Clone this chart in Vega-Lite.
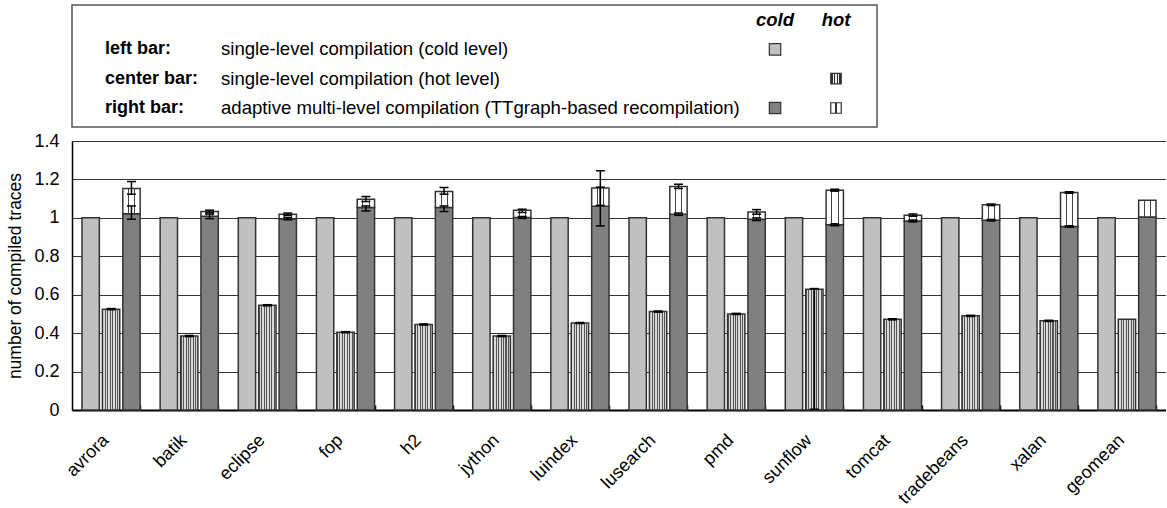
{
  "$schema": "https://vega.github.io/schema/vega-lite/v6.json",
  "padding": {"left": 6, "top": 4, "right": 0, "bottom": 0},
  "background": "white",
  "bounds": "flush",
  "spacing": 14,
  "config": {"font": "Liberation Sans", "view": {"stroke": null}},
  "datasets": {
    "bars": [
      {"b": "avrora", "pos": "left", "lo": 0, "hi": 1}, {"b": "avrora", "pos": "center", "lo": 0, "hi": 0.525}, {"b": "avrora", "pos": "right", "part": "c", "lo": 0, "hi": 1.022}, {"b": "avrora", "pos": "right", "part": "h", "lo": 1.022, "hi": 1.153},
      {"b": "batik", "pos": "left", "lo": 0, "hi": 1}, {"b": "batik", "pos": "center", "lo": 0, "hi": 0.385}, {"b": "batik", "pos": "right", "part": "c", "lo": 0, "hi": 1.008}, {"b": "batik", "pos": "right", "part": "h", "lo": 1.008, "hi": 1.033},
      {"b": "eclipse", "pos": "left", "lo": 0, "hi": 1}, {"b": "eclipse", "pos": "center", "lo": 0, "hi": 0.545}, {"b": "eclipse", "pos": "right", "part": "c", "lo": 0, "hi": 0.996}, {"b": "eclipse", "pos": "right", "part": "h", "lo": 0.996, "hi": 1.019},
      {"b": "fop", "pos": "left", "lo": 0, "hi": 1}, {"b": "fop", "pos": "center", "lo": 0, "hi": 0.405}, {"b": "fop", "pos": "right", "part": "c", "lo": 0, "hi": 1.054}, {"b": "fop", "pos": "right", "part": "h", "lo": 1.054, "hi": 1.097},
      {"b": "h2", "pos": "left", "lo": 0, "hi": 1}, {"b": "h2", "pos": "center", "lo": 0, "hi": 0.445}, {"b": "h2", "pos": "right", "part": "c", "lo": 0, "hi": 1.054}, {"b": "h2", "pos": "right", "part": "h", "lo": 1.054, "hi": 1.137},
      {"b": "jython", "pos": "left", "lo": 0, "hi": 1}, {"b": "jython", "pos": "center", "lo": 0, "hi": 0.385}, {"b": "jython", "pos": "right", "part": "c", "lo": 0, "hi": 1.002}, {"b": "jython", "pos": "right", "part": "h", "lo": 1.002, "hi": 1.04},
      {"b": "luindex", "pos": "left", "lo": 0, "hi": 1}, {"b": "luindex", "pos": "center", "lo": 0, "hi": 0.453}, {"b": "luindex", "pos": "right", "part": "c", "lo": 0, "hi": 1.061}, {"b": "luindex", "pos": "right", "part": "h", "lo": 1.061, "hi": 1.155},
      {"b": "lusearch", "pos": "left", "lo": 0, "hi": 1}, {"b": "lusearch", "pos": "center", "lo": 0, "hi": 0.512}, {"b": "lusearch", "pos": "right", "part": "c", "lo": 0, "hi": 1.019}, {"b": "lusearch", "pos": "right", "part": "h", "lo": 1.019, "hi": 1.163},
      {"b": "pmd", "pos": "left", "lo": 0, "hi": 1}, {"b": "pmd", "pos": "center", "lo": 0, "hi": 0.5}, {"b": "pmd", "pos": "right", "part": "c", "lo": 0, "hi": 0.993}, {"b": "pmd", "pos": "right", "part": "h", "lo": 0.993, "hi": 1.031},
      {"b": "sunflow", "pos": "left", "lo": 0, "hi": 1}, {"b": "sunflow", "pos": "center", "lo": 0, "hi": 0.629}, {"b": "sunflow", "pos": "right", "part": "c", "lo": 0, "hi": 0.964}, {"b": "sunflow", "pos": "right", "part": "h", "lo": 0.964, "hi": 1.144},
      {"b": "tomcat", "pos": "left", "lo": 0, "hi": 1}, {"b": "tomcat", "pos": "center", "lo": 0, "hi": 0.472}, {"b": "tomcat", "pos": "right", "part": "c", "lo": 0, "hi": 0.984}, {"b": "tomcat", "pos": "right", "part": "h", "lo": 0.984, "hi": 1.014},
      {"b": "tradebeans", "pos": "left", "lo": 0, "hi": 1}, {"b": "tradebeans", "pos": "center", "lo": 0, "hi": 0.49}, {"b": "tradebeans", "pos": "right", "part": "c", "lo": 0, "hi": 0.988}, {"b": "tradebeans", "pos": "right", "part": "h", "lo": 0.988, "hi": 1.068},
      {"b": "xalan", "pos": "left", "lo": 0, "hi": 1}, {"b": "xalan", "pos": "center", "lo": 0, "hi": 0.464}, {"b": "xalan", "pos": "right", "part": "c", "lo": 0, "hi": 0.955}, {"b": "xalan", "pos": "right", "part": "h", "lo": 0.955, "hi": 1.132},
      {"b": "geomean", "pos": "left", "lo": 0, "hi": 1}, {"b": "geomean", "pos": "center", "lo": 0, "hi": 0.472}, {"b": "geomean", "pos": "right", "part": "c", "lo": 0, "hi": 1.005}, {"b": "geomean", "pos": "right", "part": "h", "lo": 1.005, "hi": 1.092}
    ],
    "errs": [
      {"b": "avrora", "pos": "center", "lo": 0.522, "hi": 0.528}, {"b": "avrora", "pos": "right", "lo": 0.993, "hi": 1.062}, {"b": "avrora", "pos": "right", "lo": 1.123, "hi": 1.189},
      {"b": "batik", "pos": "center", "lo": 0.382, "hi": 0.388}, {"b": "batik", "pos": "right", "lo": 0.996, "hi": 1.02}, {"b": "batik", "pos": "right", "lo": 1.027, "hi": 1.04},
      {"b": "eclipse", "pos": "center", "lo": 0.542, "hi": 0.548}, {"b": "eclipse", "pos": "right", "lo": 0.99, "hi": 1.002}, {"b": "eclipse", "pos": "right", "lo": 1.013, "hi": 1.025},
      {"b": "fop", "pos": "center", "lo": 0.402, "hi": 0.408}, {"b": "fop", "pos": "right", "lo": 1.036, "hi": 1.062}, {"b": "fop", "pos": "right", "lo": 1.085, "hi": 1.111},
      {"b": "h2", "pos": "center", "lo": 0.442, "hi": 0.448}, {"b": "h2", "pos": "right", "lo": 1.033, "hi": 1.062}, {"b": "h2", "pos": "right", "lo": 1.123, "hi": 1.158},
      {"b": "jython", "pos": "center", "lo": 0.382, "hi": 0.388}, {"b": "jython", "pos": "right", "lo": 0.997, "hi": 1.007}, {"b": "jython", "pos": "right", "lo": 1.028, "hi": 1.045},
      {"b": "luindex", "pos": "center", "lo": 0.45, "hi": 0.456}, {"b": "luindex", "pos": "right", "lo": 0.958, "hi": 1.16}, {"b": "luindex", "pos": "right", "lo": 1.065, "hi": 1.245},
      {"b": "lusearch", "pos": "center", "lo": 0.509, "hi": 0.515}, {"b": "lusearch", "pos": "right", "lo": 1.013, "hi": 1.025}, {"b": "lusearch", "pos": "right", "lo": 1.153, "hi": 1.175},
      {"b": "pmd", "pos": "center", "lo": 0.497, "hi": 0.503}, {"b": "pmd", "pos": "right", "lo": 0.986, "hi": 1.0}, {"b": "pmd", "pos": "right", "lo": 1.019, "hi": 1.043},
      {"b": "sunflow", "pos": "center", "lo": 0.004, "hi": 0.632}, {"b": "sunflow", "pos": "right", "lo": 0.959, "hi": 0.969}, {"b": "sunflow", "pos": "right", "lo": 1.139, "hi": 1.149},
      {"b": "tomcat", "pos": "center", "lo": 0.469, "hi": 0.475}, {"b": "tomcat", "pos": "right", "lo": 0.979, "hi": 0.989}, {"b": "tomcat", "pos": "right", "lo": 1.008, "hi": 1.02},
      {"b": "tradebeans", "pos": "center", "lo": 0.487, "hi": 0.493}, {"b": "tradebeans", "pos": "right", "lo": 0.984, "hi": 0.992}, {"b": "tradebeans", "pos": "right", "lo": 1.064, "hi": 1.072},
      {"b": "xalan", "pos": "center", "lo": 0.461, "hi": 0.467}, {"b": "xalan", "pos": "right", "lo": 0.951, "hi": 0.959}, {"b": "xalan", "pos": "right", "lo": 1.128, "hi": 1.136}
    ],
    "legRows": [
      {"row": "left", "label": "left bar:", "desc": "single-level compilation (cold level)"},
      {"row": "center", "label": "center bar:", "desc": "single-level compilation (hot level)"},
      {"row": "right", "label": "right bar:", "desc": "adaptive multi-level compilation (TTgraph-based recompilation)"}
    ],
    "legHead": [{"col": "cold"}, {"col": "hot"}],
    "legSw": [
      {"row": "left", "col": "cold", "kind": "sc"},
      {"row": "center", "col": "hot", "kind": "sh"},
      {"row": "right", "col": "cold", "kind": "ac"},
      {"row": "right", "col": "hot", "kind": "ah"}
    ]
  },
  "vconcat": [
    {
      "width": 805,
      "height": 122,
      "view": {"stroke": "#555", "strokeWidth": 1.5},
      "layer": [
        {
          "data": {"name": "legRows"},
          "mark": {"type": "text", "fontWeight": "bold", "fontSize": 18, "align": "left", "baseline": "middle", "dx": 3, "color": "#000"},
          "encoding": {
            "x": {"datum": "label", "type": "ordinal", "scale": {"type": "point", "domain": ["label", "desc", "cold", "hot"], "range": [30, 764], "padding": 0}, "axis": null},
            "y": {"field": "row", "type": "ordinal", "scale": {"type": "point", "domain": ["header", "left", "center", "right"], "range": [15, 103], "padding": 0}, "axis": null},
            "text": {"field": "label"}
          }
        },
        {
          "data": {"name": "legRows"},
          "mark": {"type": "text", "fontSize": 18.6, "align": "left", "baseline": "middle", "dx": -125.7, "color": "#000"},
          "encoding": {
            "x": {"datum": "desc", "type": "ordinal"},
            "y": {"field": "row", "type": "ordinal"},
            "text": {"field": "desc"}
          }
        },
        {
          "data": {"name": "legHead"},
          "transform": [{"filter": "datum.col == 'cold'"}],
          "mark": {"type": "text", "fontSize": 18.5, "fontWeight": "bold", "fontStyle": "italic", "align": "center", "baseline": "middle", "dx": 183.7, "color": "#000"},
          "encoding": {
            "x": {"field": "col", "type": "ordinal"},
            "y": {"datum": "header", "type": "ordinal"},
            "text": {"field": "col"}
          }
        },
        {
          "data": {"name": "legHead"},
          "transform": [{"filter": "datum.col == 'hot'"}],
          "mark": {"type": "text", "fontSize": 18.5, "fontWeight": "bold", "fontStyle": "italic", "align": "center", "baseline": "middle", "color": "#000"},
          "encoding": {
            "x": {"field": "col", "type": "ordinal"},
            "y": {"datum": "header", "type": "ordinal"},
            "text": {"field": "col"}
          }
        },
        {
          "data": {"name": "legSw"},
          "transform": [{"filter": "datum.kind == 'sc'"}],
          "mark": {"type": "point", "shape": "square", "size": 130, "filled": true, "fill": "#c0c0c0", "stroke": "#333", "strokeWidth": 1.2, "opacity": 1, "xOffset": 183.7},
          "encoding": {"x": {"field": "col", "type": "ordinal"}, "y": {"field": "row", "type": "ordinal"}}
        },
        {
          "data": {"name": "legSw"},
          "transform": [{"filter": "datum.kind == 'ac'"}],
          "mark": {"type": "point", "shape": "square", "size": 130, "filled": true, "fill": "#808080", "stroke": "#333", "strokeWidth": 1.2, "opacity": 1, "xOffset": 183.7},
          "encoding": {"x": {"field": "col", "type": "ordinal"}, "y": {"field": "row", "type": "ordinal"}}
        },
        {
          "data": {"name": "legSw"},
          "transform": [{"filter": "datum.kind == 'sh'"}],
          "mark": {"type": "point", "shape": "square", "size": 110, "filled": true, "stroke": "#333", "strokeWidth": 1.2, "opacity": 1,
            "fill": {"gradient": "linear", "x1": 0, "x2": 1, "y1": 0, "y2": 0, "stops": [
              {"offset": 0, "color": "#333"}, {"offset": 0.2, "color": "#333"}, {"offset": 0.2, "color": "#eee"}, {"offset": 0.3, "color": "#eee"},
              {"offset": 0.3, "color": "#333"}, {"offset": 0.45, "color": "#333"}, {"offset": 0.45, "color": "#eee"}, {"offset": 0.55, "color": "#eee"},
              {"offset": 0.55, "color": "#333"}, {"offset": 0.7, "color": "#333"}, {"offset": 0.7, "color": "#eee"}, {"offset": 0.8, "color": "#eee"},
              {"offset": 0.8, "color": "#333"}, {"offset": 1, "color": "#333"}]}},
          "encoding": {"x": {"field": "col", "type": "ordinal"}, "y": {"field": "row", "type": "ordinal"}}
        },
        {
          "data": {"name": "legSw"},
          "transform": [{"filter": "datum.kind == 'ah'"}],
          "mark": {"type": "point", "shape": "square", "size": 110, "filled": true, "stroke": "#333", "strokeWidth": 1.2, "opacity": 1,
            "fill": {"gradient": "linear", "x1": 0, "x2": 1, "y1": 0, "y2": 0, "stops": [
              {"offset": 0, "color": "#fff"}, {"offset": 0.4, "color": "#fff"}, {"offset": 0.4, "color": "#333"}, {"offset": 0.55, "color": "#333"},
              {"offset": 0.55, "color": "#fff"}, {"offset": 1, "color": "#fff"}]}},
          "encoding": {"x": {"field": "col", "type": "ordinal"}, "y": {"field": "row", "type": "ordinal"}}
        }
      ]
    },
    {
      "width": 1094,
      "height": 269,
      "encoding": {
        "x": {
          "field": "b", "type": "nominal",
          "scale": {"domain": ["avrora", "batik", "eclipse", "fop", "h2", "jython", "luindex", "lusearch", "pmd", "sunflow", "tomcat", "tradebeans", "xalan", "geomean"], "paddingInner": 0.256, "paddingOuter": 0.128},
          "axis": {"title": null, "labelAngle": -45, "labelFontSize": 18, "labelColor": "#000", "labelPadding": 26, "labelOffset": -12, "tickBand": "extent", "tickSize": -5, "tickColor": "#000", "tickWidth": 1.5, "domainColor": "#000", "domainWidth": 2, "grid": false}
        },
        "xOffset": {"field": "pos", "type": "nominal", "scale": {"domain": ["left", "center", "right"], "paddingInner": 0.15, "paddingOuter": 0}},
        "y": {
          "field": "lo", "type": "quantitative", "title": "number of compiled traces",
          "scale": {"domain": [0, 1.4], "nice": false},
          "axis": {"values": [0, 0.2, 0.4, 0.6, 0.8, 1, 1.2, 1.4], "format": "~g", "labelFontSize": 18, "labelColor": "#000", "ticks": false, "labelPadding": 13, "grid": true, "gridColor": "#333", "gridWidth": 1, "domainColor": "#000", "domainWidth": 1.5, "titleFontSize": 17.5, "titleFontWeight": "normal", "titleColor": "#000", "titlePadding": 9}
        },
        "y2": {"field": "hi"}
      },
      "layer": [
        {
          "data": {"name": "bars"},
          "transform": [{"filter": "datum.pos == 'left'"}],
          "mark": {"type": "bar", "fill": "#c0c0c0", "stroke": "#333", "strokeWidth": 1.5}
        },
        {
          "data": {"name": "bars"},
          "transform": [{"filter": "datum.pos == 'center'"}],
          "mark": {"type": "bar", "stroke": "#333", "strokeWidth": 1.5,
            "fill": {"gradient": "linear", "x1": 0, "x2": 1, "y1": 0, "y2": 0, "stops": [
              {"offset": 0, "color": "#555"}, {"offset": 0.06, "color": "#555"}, {"offset": 0.06, "color": "#d8d8d8"}, {"offset": 0.143, "color": "#d8d8d8"},
              {"offset": 0.143, "color": "#555"}, {"offset": 0.203, "color": "#555"}, {"offset": 0.203, "color": "#d8d8d8"}, {"offset": 0.286, "color": "#d8d8d8"},
              {"offset": 0.286, "color": "#555"}, {"offset": 0.346, "color": "#555"}, {"offset": 0.346, "color": "#d8d8d8"}, {"offset": 0.429, "color": "#d8d8d8"},
              {"offset": 0.429, "color": "#555"}, {"offset": 0.489, "color": "#555"}, {"offset": 0.489, "color": "#d8d8d8"}, {"offset": 0.571, "color": "#d8d8d8"},
              {"offset": 0.571, "color": "#555"}, {"offset": 0.631, "color": "#555"}, {"offset": 0.631, "color": "#d8d8d8"}, {"offset": 0.714, "color": "#d8d8d8"},
              {"offset": 0.714, "color": "#555"}, {"offset": 0.774, "color": "#555"}, {"offset": 0.774, "color": "#d8d8d8"}, {"offset": 0.857, "color": "#d8d8d8"},
              {"offset": 0.857, "color": "#555"}, {"offset": 0.917, "color": "#555"}, {"offset": 0.917, "color": "#d8d8d8"}, {"offset": 1, "color": "#d8d8d8"}]}}
        },
        {
          "data": {"name": "bars"},
          "transform": [{"filter": "datum.pos == 'right' && datum.part == 'c'"}],
          "mark": {"type": "bar", "fill": "#808080", "stroke": "#333", "strokeWidth": 1.5}
        },
        {
          "data": {"name": "bars"},
          "transform": [{"filter": "datum.pos == 'right' && datum.part == 'h'"}],
          "mark": {"type": "bar", "stroke": "#333", "strokeWidth": 1.5,
            "fill": {"gradient": "linear", "x1": 0, "x2": 1, "y1": 0, "y2": 0, "stops": [
              {"offset": 0, "color": "#fff"}, {"offset": 0.3, "color": "#fff"}, {"offset": 0.3, "color": "#444"}, {"offset": 0.36, "color": "#444"},
              {"offset": 0.36, "color": "#fff"}, {"offset": 0.66, "color": "#fff"}, {"offset": 0.66, "color": "#444"}, {"offset": 0.72, "color": "#444"},
              {"offset": 0.72, "color": "#fff"}, {"offset": 1, "color": "#fff"}]}}
        },
        {
          "data": {"name": "errs"},
          "mark": {"type": "rule", "color": "#000", "strokeWidth": 1.5}
        },
        {
          "data": {"name": "errs"},
          "mark": {"type": "tick", "color": "#000", "thickness": 1.5, "size": 9, "opacity": 1},
          "encoding": {"y": {"field": "lo", "type": "quantitative", "title": "number of compiled traces"}, "y2": null}
        },
        {
          "data": {"name": "errs"},
          "mark": {"type": "tick", "color": "#000", "thickness": 1.5, "size": 9, "opacity": 1},
          "encoding": {"y": {"field": "hi", "type": "quantitative", "title": "number of compiled traces"}, "y2": null}
        }
      ]
    }
  ]
}
